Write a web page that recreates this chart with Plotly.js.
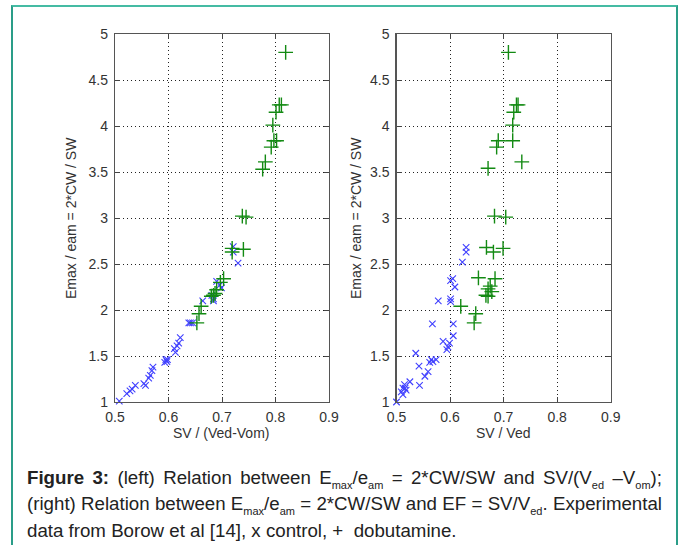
<!DOCTYPE html>
<html>
<head>
<meta charset="utf-8">
<script src="https://cdn.plot.ly/plotly-3.0.1.min.js"></script>
<style>
  html, body { margin: 0; padding: 0; background: #fff; }
  #wrap { position: relative; width: 678px; height: 545px; overflow: hidden; background: #fff; }
  #frame { position: absolute; left: 11px; top: 5px; width: 663px; height: 560px;
           border-left: 2px solid #2a9d88; border-top: 2px solid #45bba3; border-right: 2px solid #2a9d88; }
  #chart { position: absolute; left: 0; top: 0; width: 678px; height: 545px; }
  #caption { position: absolute; left: 27px; top: 466px; width: 635px;
             font-family: "Liberation Sans", Arial, sans-serif; font-size: 18.7px; line-height: 23.4px; color: #222; }
  #caption .j { text-align: justify; text-align-last: justify; }
  #caption .sub { font-size: 11px; position: relative; top: 5px; }
</style>
</head>
<body>
<div id="wrap">
  <div id="frame"></div>
  <div id="chart"></div>
  <div id="caption">
    <div class="j"><b>Figure 3:</b> (left) Relation between E<span class="sub">max</span>/e<span class="sub">am</span> = 2*CW/SW and SV/(V<span class="sub">ed</span> &ndash;V<span class="sub">om</span>);</div>
    <div class="j">(right) Relation between E<span class="sub">max</span>/e<span class="sub">am</span> = 2*CW/SW and EF = SV/V<span class="sub">ed</span>. Experimental</div>
    <div>data from Borow et al [14], x control, +&nbsp; dobutamine.</div>
  </div>
</div>
<script>
// ---- data ----
const leftControlX = [0.508,0.522,0.528,0.532,0.538,0.554,0.557,0.563,0.566,0.569,0.571,0.593,0.595,0.598,0.597,
  0.613,0.611,0.616,0.619,0.622,0.638,0.641,0.645,0.664,0.681,0.684,0.684,0.690,0.696,0.699,0.721,0.721,0.730];
const leftControlY = [1.01,1.09,1.12,1.14,1.18,1.20,1.18,1.26,1.29,1.34,1.38,1.43,1.46,1.46,1.44,
  1.54,1.58,1.61,1.64,1.70,1.86,1.86,1.86,2.10,2.16,2.12,2.10,2.31,2.27,2.24,2.69,2.63,2.51];
const leftDobX = [0.819,0.807,0.811,0.801,0.795,0.797,0.802,0.792,0.781,0.776,0.738,0.745,0.719,0.740,0.719,
  0.703,0.697,0.690,0.684,0.680,0.687,0.661,0.657,0.653];
const leftDobY = [4.80,4.23,4.23,4.15,4.01,3.84,3.84,3.77,3.61,3.53,3.02,3.01,2.67,2.66,2.63,
  2.34,2.30,2.22,2.16,2.15,2.18,2.04,1.96,1.86];
const rightControlX = [0.630,0.630,0.623,0.601,0.605,0.609,0.578,0.601,0.601,0.567,0.606,0.606,0.587,0.599,0.596,0.594,
  0.536,0.565,0.568,0.574,0.562,0.542,0.559,0.553,0.543,0.525,0.515,0.512,0.518,0.509,0.512,0.500,0.516];
const rightControlY = [2.68,2.63,2.52,2.32,2.34,2.25,2.10,2.12,2.09,1.85,1.85,1.72,1.66,1.64,1.60,1.57,
  1.53,1.46,1.44,1.46,1.43,1.39,1.33,1.28,1.18,1.22,1.19,1.15,1.13,1.11,1.08,1.00,1.15];
const rightDobX = [0.709,0.724,0.727,0.719,0.717,0.690,0.687,0.717,0.734,0.671,0.683,0.704,0.668,0.681,0.699,
  0.653,0.684,0.675,0.671,0.678,0.667,0.671,0.620,0.648,0.645];
const rightDobY = [4.80,4.23,4.23,4.15,4.01,3.84,3.77,3.84,3.61,3.54,3.02,3.01,2.68,2.63,2.67,
  2.35,2.34,2.26,2.23,2.20,2.16,2.15,2.04,1.96,1.86];
const xTickVals = [0.5,0.6,0.7,0.8,0.9];
const xTickText = ["0.5","0.6","0.7","0.8","0.9"];
const yTickVals = [1,1.5,2,2.5,3,3.5,4,4.5,5];
const yTickText = ["1","1.5","2","2.5","3","3.5","4","4.5","5"];
const yTitle = "Emax / eam = 2*CW / SW";
const xTitleLeft = "SV / (Ved-Vom)";
const xTitleRight = "SV / Ved";

// ---- styling ----
const W = 678, H = 545;
const px = v => v / W, py = v => 1 - v / H;
const tickFont = {family: "Liberation Sans, Arial, sans-serif", size: 14, color: "#333"};
const blueMarker = {symbol: "x-thin-open", size: 6.5, color: "#4040ff", line: {color: "#4040ff", width: 1.1}};
const greenMarker = {symbol: "cross-thin-open", size: 10.5, color: "#138a13", line: {color: "#138a13", width: 1.4}};

function ctl(x, y, xa, ya) { return {x, y, xaxis: xa, yaxis: ya, type: "scatter", mode: "markers", marker: blueMarker, cliponaxis: false, hoverinfo: "skip"}; }
function dob(x, y, xa, ya) { return {x, y, xaxis: xa, yaxis: ya, type: "scatter", mode: "markers", marker: greenMarker, cliponaxis: false, hoverinfo: "skip"}; }

const data = [
  ctl(leftControlX, leftControlY, "x", "y"),
  dob(leftDobX, leftDobY, "x", "y"),
  ctl(rightControlX, rightControlY, "x2", "y2"),
  dob(rightDobX, rightDobY, "x2", "y2")
];

function xAxis(domain, anchor) {
  return {domain, anchor, range: [0.5, 0.9], tickmode: "array", tickvals: xTickVals, ticktext: xTickText,
    ticks: "inside", ticklen: 5, tickcolor: "#444", tickwidth: 1, mirror: "ticks", showline: true, linecolor: "#555", linewidth: 1.2,
    showgrid: true, gridcolor: "#222", griddash: "1px,3px", gridwidth: 1, zeroline: false, tickfont: tickFont, ticklabelstandoff: 2, fixedrange: true};
}
function yAxis(domain, anchor) {
  return {domain, anchor, range: [1, 5], tickmode: "array", tickvals: yTickVals, ticktext: yTickText,
    ticks: "inside", ticklen: 5, tickcolor: "#444", tickwidth: 1, mirror: "ticks", showline: true, linecolor: "#555", linewidth: 1.2,
    showgrid: true, gridcolor: "#222", griddash: "1px,3px", gridwidth: 1, zeroline: false, tickfont: tickFont, ticklabelstandoff: 3, fixedrange: true};
}

const yDom = [py(402), py(34)];
const layout = {
  width: W, height: H, margin: {l: 0, r: 0, t: 0, b: 0},
  paper_bgcolor: "rgba(0,0,0,0)", plot_bgcolor: "#fff", showlegend: false,
  xaxis: xAxis([px(115), px(329)], "y"),
  yaxis: yAxis(yDom, "x"),
  xaxis2: xAxis([px(396.5), px(610.7)], "y2"),
  yaxis2: yAxis(yDom, "x2"),
  annotations: [
    {text: yTitle, xref: "paper", yref: "paper", x: px(71), y: py(218), textangle: -90, showarrow: false, xanchor: "center", yanchor: "middle", font: tickFont},
    {text: yTitle, xref: "paper", yref: "paper", x: px(356), y: py(218), textangle: -90, showarrow: false, xanchor: "center", yanchor: "middle", font: tickFont},
    {text: xTitleLeft, xref: "paper", yref: "paper", x: px(221), y: py(433), showarrow: false, xanchor: "center", yanchor: "middle", font: tickFont},
    {text: xTitleRight, xref: "paper", yref: "paper", x: px(503.5), y: py(433), showarrow: false, xanchor: "center", yanchor: "middle", font: tickFont}
  ]
};

Plotly.newPlot("chart", data, layout, {staticPlot: true, displayModeBar: false});
</script>
</body>
</html>
